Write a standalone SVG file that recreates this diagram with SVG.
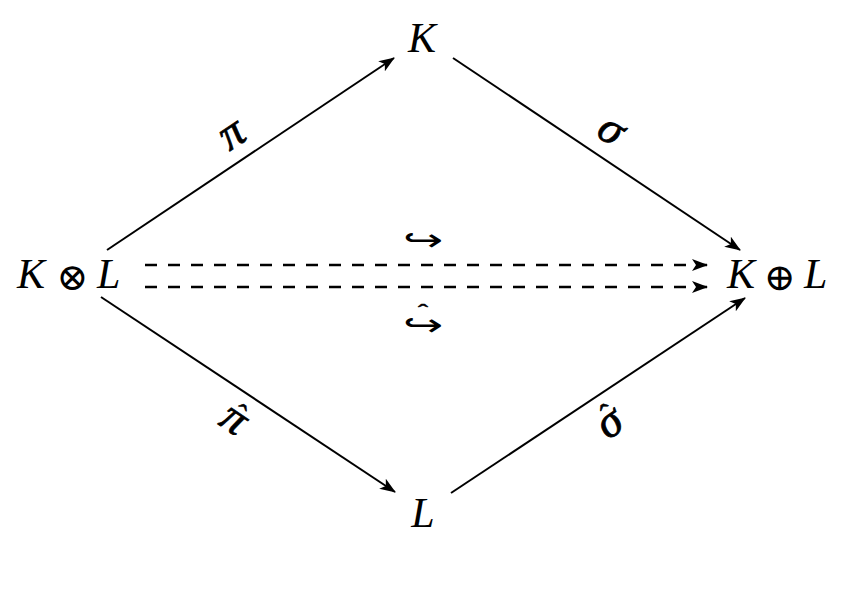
<svg xmlns="http://www.w3.org/2000/svg" width="846" height="589" viewBox="0 0 846 589">
<defs>
<marker id="ah" viewBox="0 0 16 12" refX="15" refY="6" markerWidth="16" markerHeight="12" markerUnits="userSpaceOnUse" orient="auto">
<path d="M0,0 L16,6 L0,12 L4,6 Z" fill="#000"/>
</marker>
<style>
.n{font-family:"Liberation Serif","Times New Roman",serif;font-style:italic;font-size:42px;fill:#000}
.op{font-family:"DejaVu Serif","Liberation Serif",serif;font-style:normal;font-size:38px;fill:#000;text-anchor:middle}
.lb{font-family:"Liberation Serif","Times New Roman",serif;font-style:italic;font-size:46px;fill:#000;stroke:#000;stroke-width:0.8;text-anchor:middle}
.hat{font-family:"Liberation Serif","Times New Roman",serif;font-style:normal;font-size:30px;stroke-width:0.6}
.hk{font-family:"DejaVu Sans","Liberation Serif",sans-serif;font-size:32px;fill:#000;text-anchor:middle}
.e{stroke:#000;stroke-width:2;fill:none;marker-end:url(#ah)}
.d{stroke:#000;stroke-width:2.5;fill:none;stroke-dasharray:12 11;marker-end:url(#ah)}
</style>
</defs>
<rect width="846" height="589" fill="#fff"/>
<g id="connectors">
<line class="e" x1="107" y1="250" x2="394" y2="58"/>
<line class="e" x1="453" y1="58" x2="740" y2="250"/>
<line class="e" x1="101" y1="297" x2="395" y2="492"/>
<line class="e" x1="451" y1="493" x2="745" y2="298"/>
<line class="d" x1="145" y1="265" x2="707" y2="265"/>
<line class="d" x1="145" y1="287" x2="707" y2="287"/>
<text class="lb" transform="translate(233,136) rotate(-34)" x="0" y="11">π</text>
<text class="lb" transform="translate(610,132) rotate(34)" x="0" y="11">σ</text>
<text class="lb" transform="translate(233,421) rotate(34)"><tspan x="0" y="11">π</tspan><tspan class="hat" x="1" y="1">ˆ</tspan></text>
<text class="lb" transform="translate(611,425) rotate(-34)"><tspan x="0" y="11">σ</tspan><tspan class="hat" x="4" y="-1">ˆ</tspan></text>
<text class="hk" transform="translate(423,251) scale(1.5,1)">↪</text>
<text class="hk" transform="translate(423,336) scale(1.5,1)"><tspan x="0" y="0">↪</tspan><tspan x="0" y="-17" style="font-family:'Liberation Serif',serif;font-size:20px;stroke:#000;stroke-width:0.5">ˆ</tspan></text>
</g>
<g id="node-K"><text class="n" x="422" y="52" text-anchor="middle">K</text></g>
<g id="node-L"><text class="n" x="423" y="527" text-anchor="middle">L</text></g>
<g id="node-KtensorL"><text class="n" x="17" y="288">K</text><text class="op" x="72.5" y="290">⊗</text><text class="n" x="97" y="288">L</text></g>
<g id="node-KsumL"><text class="n" x="727" y="288">K</text><text class="op" x="780" y="290">⊕</text><text class="n" x="804" y="288">L</text></g>
</svg>
